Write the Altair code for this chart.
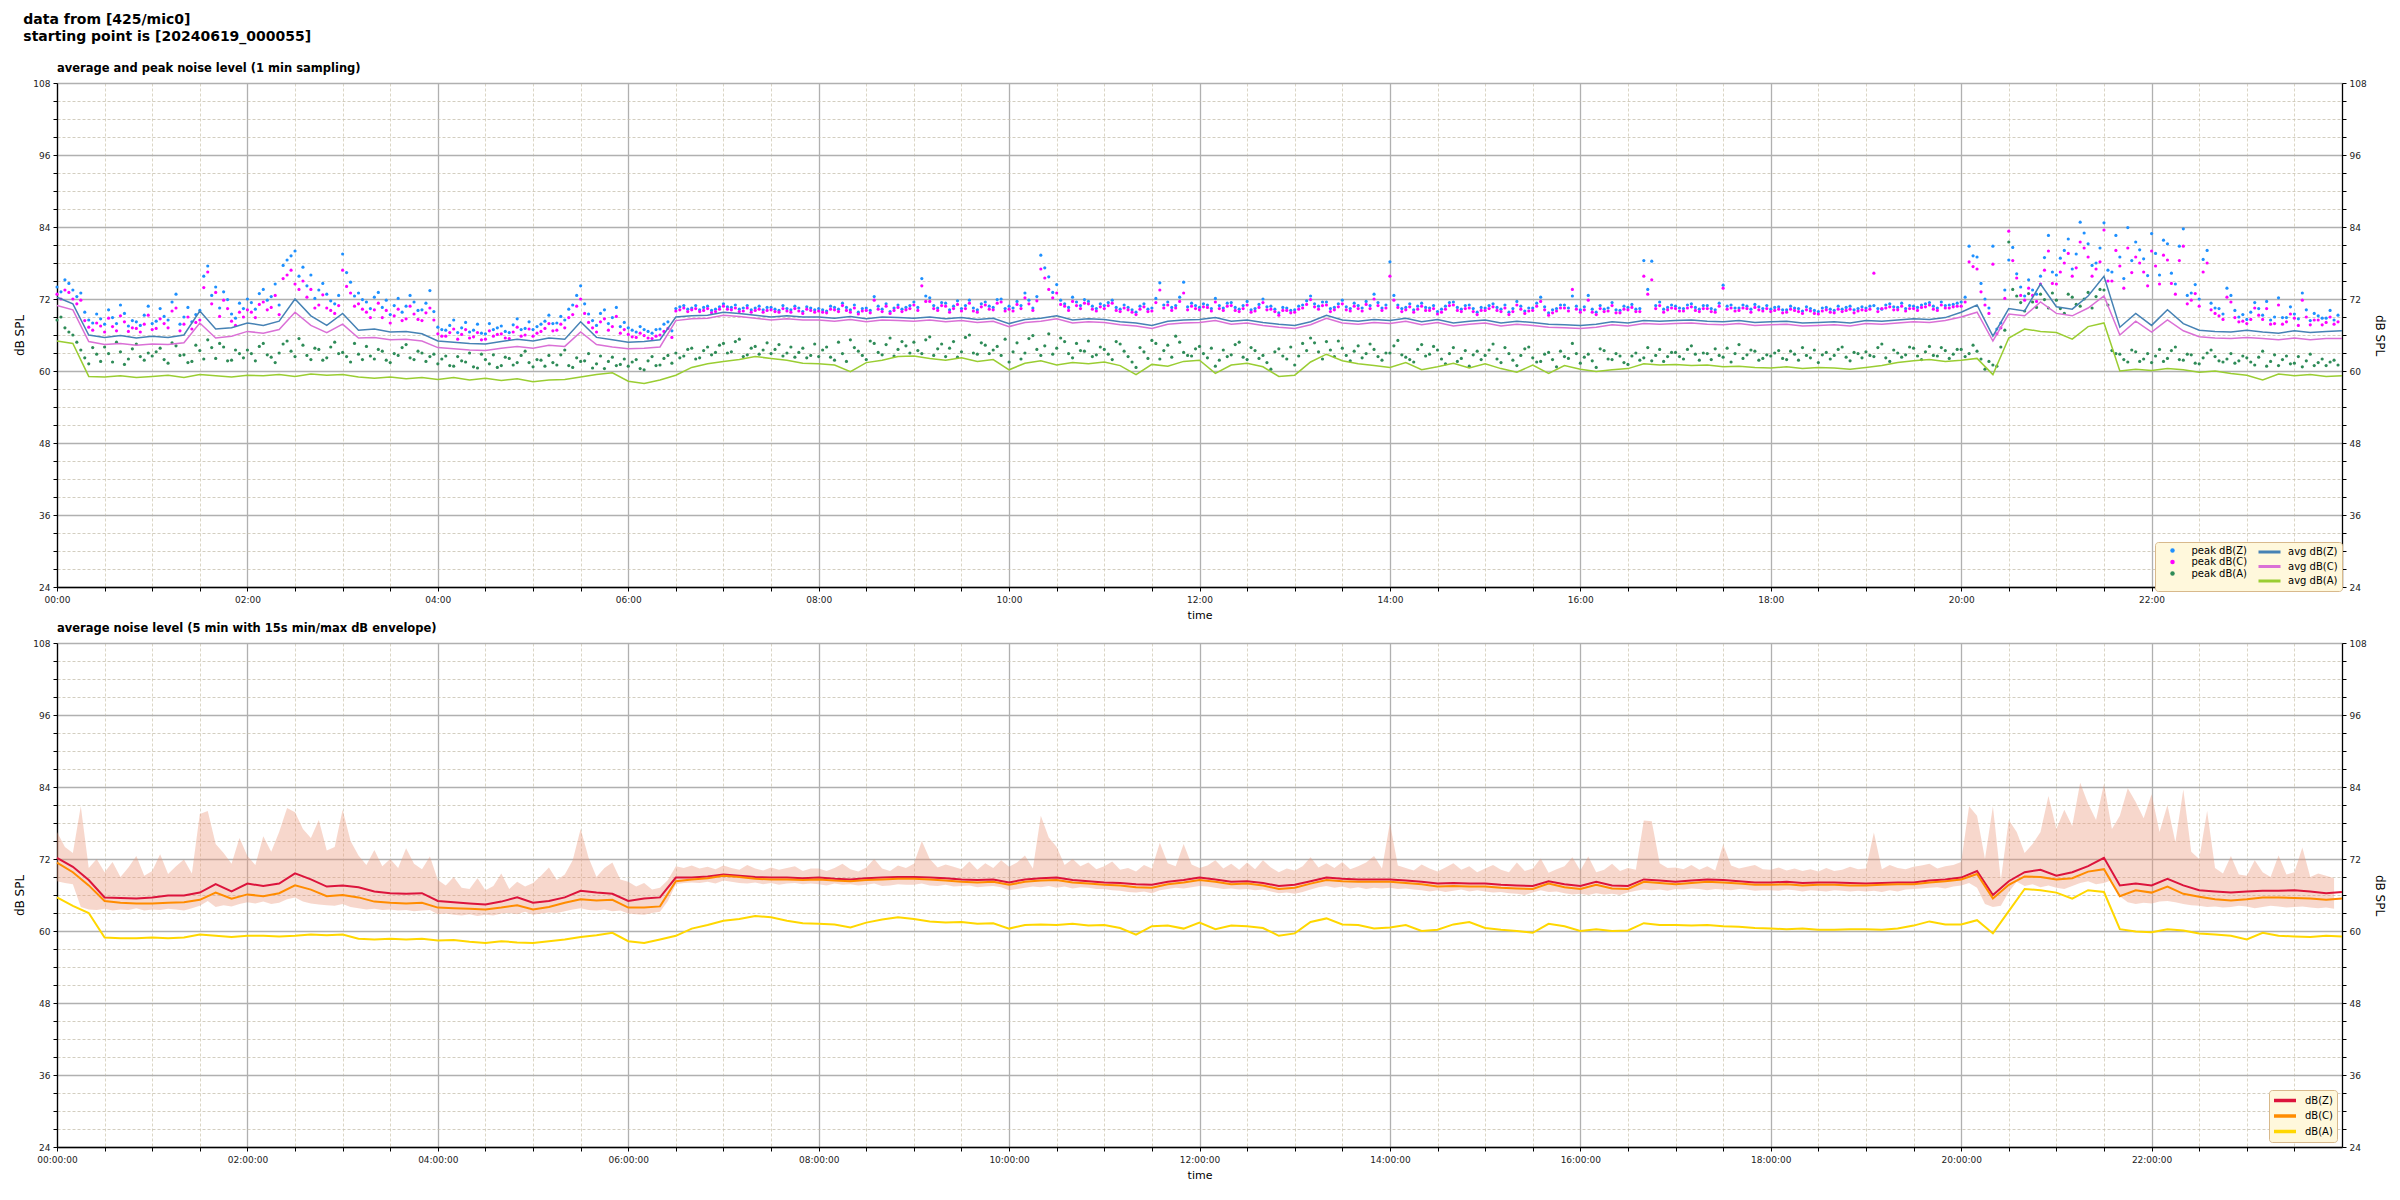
import altair as alt
import pandas as pd

MAIN_TITLE = ["data from [425/mic0]", "starting point is [20240619_000055]"]
TOP_TITLE = "average and peak noise level (1 min sampling)"
BOTTOM_TITLE = "average noise level (5 min with 15s min/max dB envelope)"

# ---- top panel: 1-min averages, read every 10 min ----
AVG_STEP = 10
avg_z = [
    72.3, 71.2, 66.0, 65.6, 65.9, 65.5,
    65.8, 65.6, 66.0, 70.0, 67.0, 67.2,
    68.0, 67.6, 68.3, 72.0, 69.2, 67.6,
    69.6, 66.8, 67.0, 66.5, 66.6, 66.2,
    65.0, 64.8, 64.6, 64.5, 64.9, 65.3,
    65.0, 65.5, 65.3, 68.2, 65.6, 65.2,
    64.8, 64.9, 65.2, 69.0, 69.2, 69.3,
    69.8, 69.6, 69.3, 69.0, 69.2, 69.0,
    69.0, 68.8, 69.1, 68.7, 69.0, 68.9,
    68.8, 69.0, 68.7, 68.9, 68.6, 68.8,
    67.9, 68.6, 68.8, 69.2, 68.5, 68.7,
    68.6, 68.2, 68.0, 67.6, 68.3, 68.5,
    68.6, 68.9, 68.3, 68.5, 68.1, 67.8,
    67.6, 68.2, 69.3, 68.5, 68.3, 68.6,
    68.4, 68.8, 68.2, 68.6, 68.0, 68.3,
    68.5, 68.0, 68.3, 68.1, 67.8, 67.7,
    67.6, 67.8, 68.2, 68.0, 68.4, 68.3,
    68.4, 68.5, 68.3, 68.2, 68.4, 68.1,
    68.2, 68.3, 68.0, 68.1, 68.2, 68.0,
    68.4, 68.3, 68.5, 68.7, 68.6, 68.9,
    69.8, 71.0, 65.8, 70.4, 70.0, 74.5,
    70.7, 70.3, 72.5, 75.8, 67.3, 69.6,
    67.6, 70.2, 67.9, 66.8, 66.6, 66.5,
    66.8, 66.5, 66.3, 66.7, 66.4, 66.6,
    66.7,
]
avg_c = [
    70.9, 70.2, 64.9, 64.4, 64.6, 64.3,
    64.5, 64.4, 64.7, 68.0, 65.5, 65.8,
    66.6, 66.3, 66.9, 69.8, 67.6, 66.4,
    67.8, 65.5, 65.6, 65.2, 65.3, 65.0,
    63.9, 63.7, 63.5, 63.4, 63.8, 64.1,
    63.8, 64.3, 64.1, 66.5, 64.4, 64.0,
    63.7, 63.8, 64.0, 68.4, 68.7, 68.8,
    69.3, 69.1, 68.8, 68.5, 68.7, 68.5,
    68.5, 68.3, 68.6, 68.2, 68.5, 68.4,
    68.3, 68.5, 68.2, 68.4, 68.1, 68.3,
    67.4, 68.1, 68.3, 68.7, 68.0, 68.2,
    68.1, 67.7, 67.5, 67.1, 67.8, 68.0,
    68.1, 68.4, 67.8, 68.0, 67.6, 67.3,
    67.1, 67.7, 68.8, 68.0, 67.8, 68.1,
    67.9, 68.3, 67.7, 68.1, 67.5, 67.8,
    68.0, 67.5, 67.8, 67.6, 67.3, 67.2,
    67.1, 67.3, 67.7, 67.5, 67.9, 67.8,
    67.9, 68.0, 67.8, 67.7, 67.9, 67.6,
    67.7, 67.8, 67.5, 67.6, 67.7, 67.5,
    67.9, 67.8, 68.0, 68.2, 68.1, 68.4,
    69.0, 69.8, 65.0, 69.5, 69.2, 71.5,
    69.6, 69.2, 70.5, 72.5, 66.0, 68.3,
    66.5, 68.5, 66.7, 65.7, 65.5, 65.4,
    65.6, 65.4, 65.2, 65.5, 65.2, 65.4,
    65.4,
]
avg_a = [
    65.0, 64.6, 59.1, 59.0, 59.2, 58.9,
    59.1, 59.3, 58.9, 59.4, 59.2, 59.0,
    59.3, 59.2, 59.4, 59.1, 59.5, 59.3,
    59.4, 59.0, 58.8, 59.0, 58.7, 58.9,
    58.6, 58.9, 58.5, 58.8, 58.4, 58.7,
    58.2, 58.5, 58.6, 59.0, 59.4, 59.7,
    58.3, 57.9, 58.5, 59.3, 60.6, 61.2,
    61.6, 61.9, 62.4, 62.1, 61.8, 61.3,
    61.2, 61.0, 59.9, 61.4, 61.8, 62.4,
    62.5, 62.1, 61.8, 62.2, 61.6, 61.9,
    60.2, 61.3, 61.7, 61.0, 61.4, 61.2,
    61.5, 60.9, 59.4, 61.1, 60.8, 61.6,
    61.8, 59.6, 61.0, 61.3, 60.7, 59.1,
    59.3, 61.5, 62.8, 61.7, 61.2, 60.9,
    60.6, 61.4, 60.2, 60.7, 61.3, 60.5,
    61.2, 60.4, 59.8, 61.0, 59.6, 60.9,
    60.3, 59.9, 60.2, 60.4, 61.2, 61.0,
    61.1, 60.9, 61.0, 60.7, 60.8, 60.6,
    60.5, 60.7, 60.4, 60.6, 60.5, 60.3,
    60.6, 60.9, 61.4, 61.7, 61.9, 61.6,
    61.8, 62.1, 59.4, 65.5, 67.0, 66.6,
    66.4, 65.3, 67.4, 68.0, 60.0, 60.3,
    60.1, 60.4, 60.2, 59.8, 60.0, 59.6,
    59.3, 58.5, 59.5, 59.2, 59.4, 59.1,
    59.2,
]

# ---- top panel: peak values, read every 5 min (minute 0, 5, 10, ...) ----
PEAK_STEP = 5
peak_z = [
    74.0, 75.2, 73.5, 73.0, 68.5, 69.5, 67.8, 68.9, 71.0, 67.5, 68.2, 69.3,
    67.9, 70.4, 68.5, 72.8, 69.0, 68.2, 70.1, 77.5, 74.0, 73.2, 69.5, 71.3,
    72.0, 70.3, 73.6, 72.4, 71.0, 78.5, 80.0, 77.3, 76.0, 73.5, 72.8, 71.2,
    79.5, 74.8, 73.0, 71.5, 72.3, 70.6, 69.4, 72.1, 70.8, 71.5, 70.2, 73.4,
    67.3, 66.8, 68.5, 67.2, 66.5, 67.8, 66.2, 66.9, 67.5, 66.4, 68.7, 67.1,
    66.9, 67.8, 69.3, 68.0, 68.5, 71.0, 74.2, 69.5, 67.6, 70.2, 68.9, 67.4,
    67.2, 66.5, 66.9, 66.3, 67.0, 68.2, 70.4, 70.9, 70.5, 70.2, 70.8, 70.3,
    71.2, 70.6, 70.3, 70.9, 70.5, 70.2, 70.6, 70.1, 70.4, 70.8, 69.9, 70.5,
    70.4, 70.0, 70.6, 71.3, 70.2, 69.8, 70.5, 72.4, 70.3, 69.9, 71.0, 70.6,
    71.5, 75.4, 72.2, 70.5, 71.3, 70.8, 70.4, 71.8, 70.2, 71.5, 70.6, 72.0,
    70.8, 71.6, 73.0, 70.5, 79.3, 75.7, 74.4, 71.2, 72.3, 70.9, 71.6, 70.4,
    70.9, 71.8, 70.3, 70.6, 69.8, 71.2, 70.5, 74.7, 71.5, 70.9, 74.8, 71.3,
    70.6, 71.0, 72.1, 70.5, 71.4, 70.3, 71.6, 70.4, 72.0, 70.8, 69.7, 70.5,
    70.2, 71.0, 72.5, 70.8, 71.5, 70.6, 71.8, 70.4, 70.9, 71.6, 72.8, 70.5,
    78.2, 71.0, 70.6, 70.2, 71.3, 70.5, 69.9, 70.8, 71.5, 70.3, 71.0, 69.8,
    70.5, 71.2, 70.3, 69.8, 71.6, 70.0, 70.5, 72.3, 69.7, 70.4, 71.0, 72.5,
    70.2, 72.6, 69.8, 70.3, 71.4, 70.1, 70.6, 70.3, 78.4, 78.3, 71.5, 70.6,
    70.8, 70.4, 71.2, 70.3, 70.9, 70.2, 74.3, 71.0, 70.5, 70.8, 71.1, 70.4,
    70.3, 70.7, 70.2, 70.5, 70.0, 70.4, 69.9, 70.6, 70.1, 70.3, 70.8, 70.4,
    70.5, 70.9, 70.3, 71.2, 70.6, 70.4, 70.8, 71.0, 71.4, 70.5, 70.9, 71.1,
    71.5, 80.8, 79.0, 72.0, 80.8, 68.0, 78.5, 76.2, 72.5, 73.5, 75.8, 82.6,
    76.0, 80.1, 77.0, 84.8, 81.2, 78.0, 84.7, 76.5, 79.0, 83.9, 81.5, 78.7,
    82.9, 76.0, 81.2, 74.5, 83.7, 73.0, 72.0, 80.1, 70.5, 69.5, 72.6, 69.0,
    68.6, 71.4, 69.3, 68.5, 72.2, 68.9, 69.5, 73.0, 68.4, 69.2, 68.8, 68.5,
]
peak_c = [
    72.8, 73.5, 72.0, 71.8, 67.3, 68.0, 66.5, 67.4, 69.2, 66.6, 67.1, 67.8,
    66.9, 68.7, 67.2, 70.5, 67.8, 67.0, 68.5, 76.5, 73.1, 71.8, 68.3, 69.8,
    70.2, 68.9, 71.5, 70.6, 69.4, 76.0, 74.5, 75.0, 73.6, 71.0, 70.5, 69.6,
    76.8, 73.0, 71.2, 69.8, 70.2, 68.9, 68.0, 70.3, 68.7, 69.5, 68.4, 70.5,
    66.2, 65.8, 67.0, 66.1, 65.5, 66.4, 65.3, 65.8, 66.2, 65.4, 67.3, 66.0,
    65.8, 66.6, 67.9, 66.8, 67.2, 69.4, 72.0, 68.1, 66.5, 68.7, 67.4, 66.3,
    66.1, 65.6, 65.9, 65.4, 66.0, 67.1, 70.0, 70.5, 70.2, 69.9, 70.4, 69.9,
    70.8, 70.2, 69.9, 70.5, 70.1, 69.8, 70.2, 69.8, 70.0, 70.4, 69.6, 70.1,
    70.0, 69.7, 70.2, 70.9, 69.8, 69.5, 70.1, 71.8, 69.9, 69.6, 70.6, 70.2,
    71.0, 74.2, 71.6, 70.1, 70.8, 70.4, 70.0, 71.3, 69.8, 71.0, 70.2, 71.5,
    70.3, 71.1, 72.2, 70.1, 77.0, 73.6, 73.0, 70.8, 71.6, 70.4, 71.2, 70.0,
    70.4, 71.3, 69.9, 70.2, 69.4, 70.7, 70.0, 73.5, 71.0, 70.5, 73.0, 70.8,
    70.2, 70.6, 71.5, 70.1, 70.9, 69.9, 71.0, 70.0, 71.4, 70.3, 69.3, 70.1,
    69.8, 70.5, 71.9, 70.3, 71.0, 70.2, 71.2, 70.0, 70.4, 71.1, 72.0, 70.1,
    75.8, 70.6, 70.2, 69.8, 70.8, 70.1, 69.5, 70.3, 71.0, 69.9, 70.5, 69.4,
    70.1, 70.7, 69.9, 69.4, 71.0, 69.6, 70.1, 71.6, 69.3, 70.0, 70.5, 73.6,
    69.8, 71.8, 69.4, 69.9, 70.9, 69.7, 70.2, 69.9, 75.8, 75.2, 70.9, 70.2,
    70.4, 70.0, 70.7, 69.9, 70.4, 69.8, 73.8, 70.5, 70.1, 70.4, 70.6, 70.0,
    69.9, 70.3, 69.8, 70.1, 69.6, 70.0, 69.5, 70.2, 69.7, 69.9, 70.3, 70.0,
    70.1, 76.3, 70.4, 70.7, 70.2, 70.0, 70.4, 70.6, 71.0, 70.1, 70.5, 70.7,
    70.8, 78.2, 77.0, 71.0, 77.8, 67.2, 83.3, 75.5, 71.8, 72.6, 74.5, 80.0,
    74.5, 78.0, 75.8, 81.5, 79.0, 77.0, 83.5, 75.0, 77.5, 80.5, 79.0, 76.5,
    80.0, 74.5, 78.5, 72.8, 80.8, 71.8, 70.8, 78.0, 69.6, 68.6, 71.5, 68.2,
    67.9, 70.5, 68.6, 67.8, 71.0, 68.2, 68.8, 71.8, 67.7, 68.5, 68.1, 67.8,
]
peak_a = [
    68.5, 67.2, 66.0, 63.5, 61.2, 62.8, 64.0, 61.5, 63.2, 62.0, 64.5, 61.8,
    62.5, 63.8, 61.3, 64.2, 62.7, 61.6, 63.4, 65.2, 62.1, 64.0, 61.8, 62.9,
    63.5, 61.7, 64.6, 62.3, 63.0, 65.0, 62.4, 64.3, 61.9, 63.6, 62.2, 64.8,
    63.1, 61.5, 62.8, 64.1, 62.0, 63.3, 61.4, 62.6, 64.4, 61.9, 63.0, 62.4,
    61.2, 62.5, 60.8, 61.7, 63.0, 60.5, 61.9, 62.7, 60.9, 62.1, 61.4, 63.3,
    60.7, 61.8, 62.6, 61.0, 63.5, 60.6, 61.6, 62.9, 61.2, 60.4, 62.3, 61.1,
    60.8, 61.9, 60.2, 62.4, 61.0, 62.6, 63.0, 62.5, 63.8, 62.2, 64.0, 63.1,
    64.6, 63.2, 65.3, 62.7, 64.1, 63.5, 62.9, 64.4, 63.0, 62.3, 63.8, 62.6,
    62.4, 64.0, 61.8, 62.9, 65.2, 63.3, 61.9, 64.6, 62.7, 65.5, 63.6, 64.2,
    64.8, 62.9, 65.7, 63.7, 62.4, 64.9, 63.2, 66.0, 62.8, 64.3, 63.5, 62.6,
    61.5, 64.7, 63.0, 65.9, 62.6, 66.2, 63.8, 64.9, 62.2, 63.4, 65.0, 62.7,
    63.6, 61.9, 64.5, 62.4, 60.6, 63.2, 65.1, 62.0, 64.3, 65.8, 63.1, 62.5,
    64.1, 62.2, 60.8, 63.5, 62.7, 64.8, 61.9, 63.4, 62.6, 60.3, 63.7, 62.0,
    61.0, 64.6, 65.5, 63.2, 64.9, 62.4, 63.8, 61.7, 64.2, 62.9, 63.6, 61.8,
    63.0, 65.1, 62.3, 61.5, 64.4, 62.8, 63.5, 61.2, 63.9, 62.1, 60.8, 63.3,
    62.6, 64.5, 61.4, 62.9, 60.9, 63.7, 62.2, 61.6, 63.1, 60.7, 62.4, 64.6,
    61.3, 62.8, 60.6, 63.4, 61.9, 62.5, 61.1, 63.0, 62.2, 61.7, 63.6, 62.4,
    63.1, 62.0, 64.2, 61.8, 62.9, 63.7, 62.3, 61.5, 64.4, 62.7, 63.3, 62.1,
    62.5, 63.4, 61.9, 62.8, 63.9, 62.2, 61.4, 63.1, 62.6, 64.0, 61.7, 62.9,
    63.2, 62.4, 64.5, 61.6, 63.0, 62.7, 63.8, 61.9, 64.1, 62.5, 63.4, 62.8,
    63.6, 62.9, 63.3, 60.3, 61.0, 64.0, 81.5, 72.5, 70.0, 71.5, 72.8, 70.5,
    71.8, 69.6, 72.3, 70.8, 73.1, 72.4, 73.5, 63.4, 62.8, 61.5, 63.2, 62.0,
    61.4, 63.6, 62.1, 64.0, 61.8, 62.7, 61.2, 63.0, 62.4, 61.5, 62.9, 61.7,
    62.2, 61.0, 63.3, 61.6, 60.9, 62.5, 61.3, 60.7, 62.8, 61.4, 60.9, 61.8,
]

# ---- top panel: peak values in between (minute 2.5, 7.5, 12.5, ...) ----
peak_z_mid = [
    73.2, 74.6, 72.4, 69.8, 68.0, 68.7, 70.2, 67.9, 69.6, 68.4, 67.6, 70.8,
    68.3, 69.1, 71.5, 67.8, 70.6, 69.4, 75.8, 72.6, 70.5, 71.9, 68.8, 70.4,
    71.4, 72.9, 71.8, 74.5, 77.6, 79.2, 75.8, 74.2, 72.1, 74.6, 71.7, 72.6,
    76.4, 72.5, 71.9, 70.4, 73.1, 71.8, 70.9, 69.8, 72.6, 70.1, 71.3, 69.9,
    66.9, 67.6, 66.4, 68.1, 66.8, 66.3, 67.9, 67.2, 66.6, 67.7, 66.9, 68.2,
    67.4, 68.3, 67.9, 69.1, 70.3, 72.6, 71.2, 68.4, 69.6, 67.9, 70.6, 68.1,
    66.8, 67.4, 66.6, 66.9, 67.8, 66.7, 70.7, 70.3, 70.9, 70.6, 70.1, 70.7,
    70.7, 71.0, 70.5, 70.2, 70.8, 70.6, 70.3, 70.9, 70.2, 70.5, 70.7, 70.2,
    70.2, 70.8, 70.3, 70.6, 71.0, 70.4, 70.1, 70.8, 71.2, 70.5, 70.3, 70.9,
    70.6, 72.5, 70.9, 71.4, 70.2, 71.7, 70.9, 70.5, 71.2, 70.8, 71.9, 70.4,
    70.5, 70.9, 71.8, 72.4, 77.2, 73.1, 71.8, 70.6, 71.5, 71.9, 70.8, 71.2,
    71.4, 70.6, 71.0, 70.2, 70.8, 70.3, 72.1, 71.0, 70.6, 72.3, 70.7, 70.9,
    71.2, 70.4, 70.9, 71.3, 70.6, 70.9, 70.2, 71.1, 70.7, 70.3, 70.6, 70.1,
    70.8, 71.7, 71.2, 71.5, 70.4, 71.2, 70.7, 71.3, 70.5, 70.9, 71.4, 71.0,
    72.6, 70.4, 71.2, 70.8, 70.6, 70.9, 70.3, 71.4, 70.6, 70.9, 70.4, 70.6,
    70.9, 70.6, 71.0, 70.4, 70.8, 70.5, 71.3, 70.7, 70.2, 71.0, 70.5, 70.8,
    70.7, 70.3, 70.9, 70.5, 70.2, 70.8, 71.1, 70.4, 73.6, 70.9, 70.3, 71.0,
    70.5, 71.0, 70.6, 70.9, 70.4, 71.3, 70.8, 70.5, 71.0, 70.3, 70.7, 70.9,
    70.6, 70.2, 70.8, 70.4, 70.7, 70.1, 70.5, 70.3, 70.8, 70.6, 70.2, 70.7,
    70.8, 70.4, 71.0, 70.7, 71.3, 70.9, 70.6, 71.2, 70.8, 71.5, 71.0, 71.3,
    72.3, 79.2, 74.6, 70.5, 67.0, 73.5, 80.6, 74.0, 75.2, 72.8, 78.9, 76.5,
    78.8, 82.0, 79.5, 83.0, 77.6, 80.5, 76.8, 82.6, 75.4, 78.4, 80.2, 75.9,
    79.6, 81.8, 76.3, 80.8, 72.6, 74.4, 78.6, 71.3, 70.4, 73.8, 70.1, 69.4,
    69.8, 70.4, 71.6, 69.0, 68.9, 70.7, 68.7, 70.2, 69.6, 68.8, 70.1, 69.3,
]
peak_c_mid = [
    72.0, 73.1, 71.2, 68.4, 66.8, 67.5, 68.8, 66.7, 68.2, 67.2, 66.5, 69.3,
    67.1, 67.9, 70.0, 66.7, 69.0, 68.1, 73.9, 71.2, 69.1, 70.4, 67.6, 69.0,
    69.8, 71.1, 70.2, 72.6, 75.4, 76.8, 73.6, 72.3, 70.5, 72.7, 70.1, 70.9,
    74.1, 70.8, 70.3, 68.9, 71.3, 70.1, 69.2, 68.4, 70.8, 68.6, 69.7, 68.5,
    65.8, 66.4, 65.3, 66.9, 65.7, 65.2, 66.7, 66.1, 65.5, 66.5, 65.8, 67.0,
    66.3, 67.1, 66.7, 67.8, 68.9, 70.8, 69.6, 67.2, 68.2, 66.8, 69.1, 66.9,
    65.7, 66.3, 65.5, 65.8, 66.6, 65.6, 70.2, 69.9, 70.4, 70.1, 69.7, 70.3,
    70.3, 70.5, 70.0, 69.8, 70.3, 70.1, 69.9, 70.4, 69.8, 70.0, 70.3, 69.8,
    69.8, 70.3, 69.9, 70.1, 70.5, 70.0, 69.7, 70.3, 70.8, 70.1, 69.9, 70.4,
    70.1, 71.6, 70.4, 70.9, 69.8, 71.1, 70.4, 70.0, 70.7, 70.3, 71.3, 70.0,
    70.0, 70.4, 71.2, 71.7, 75.5, 72.2, 71.1, 70.1, 70.9, 71.3, 70.3, 70.7,
    70.9, 70.1, 70.5, 69.8, 70.3, 69.9, 71.4, 70.5, 70.1, 71.6, 70.2, 70.4,
    70.7, 70.0, 70.4, 70.8, 70.1, 70.4, 69.8, 70.6, 70.2, 69.9, 70.1, 69.7,
    70.3, 71.1, 70.7, 70.9, 69.9, 70.7, 70.2, 70.8, 70.0, 70.4, 70.9, 70.5,
    71.8, 69.9, 70.7, 70.3, 70.1, 70.4, 69.8, 70.9, 70.1, 70.4, 69.9, 70.1,
    70.4, 70.1, 70.5, 69.9, 70.3, 70.0, 70.8, 70.2, 69.7, 70.5, 70.0, 70.3,
    70.2, 69.8, 70.4, 70.0, 69.7, 70.3, 70.6, 69.9, 72.8, 70.4, 69.8, 70.5,
    70.0, 70.5, 70.1, 70.4, 69.9, 70.8, 70.3, 70.0, 70.5, 69.8, 70.2, 70.4,
    70.1, 69.7, 70.3, 69.9, 70.2, 69.6, 70.0, 69.8, 70.3, 70.1, 69.7, 70.2,
    70.3, 69.9, 70.5, 70.2, 70.8, 70.4, 70.1, 70.7, 70.3, 71.0, 70.5, 70.8,
    71.5, 77.4, 73.2, 69.6, 66.2, 72.1, 78.4, 72.6, 73.8, 71.6, 76.8, 74.6,
    76.5, 79.6, 77.2, 80.5, 75.8, 78.2, 75.0, 80.1, 73.8, 76.4, 78.0, 74.2,
    77.5, 79.3, 74.6, 78.4, 71.2, 72.9, 76.5, 70.2, 69.2, 72.3, 68.9, 68.3,
    68.6, 69.3, 70.4, 67.9, 67.8, 69.5, 67.6, 69.0, 68.5, 67.7, 69.0, 68.2,
]
peak_a_mid = [
    69.0, 66.5, 64.8, 62.2, 63.9, 61.6, 62.9, 64.8, 61.1, 63.7, 62.4, 63.0,
    63.2, 61.9, 64.7, 62.6, 61.4, 64.3, 62.0, 63.9, 64.6, 61.7, 63.5, 62.2,
    62.9, 64.1, 62.7, 61.4, 64.5, 63.3, 65.4, 62.6, 63.8, 61.8, 64.0, 62.9,
    62.4, 64.6, 61.9, 62.5, 63.6, 61.8, 62.9, 63.9, 62.2, 63.3, 61.6, 62.8,
    62.0, 60.9, 62.4, 61.5, 60.7, 62.8, 61.2, 60.6, 62.3, 61.0, 62.6, 61.4,
    61.9, 60.8, 61.4, 62.7, 60.9, 62.2, 61.7, 60.5, 62.5, 61.6, 60.9, 62.0,
    61.5, 60.4, 61.7, 60.9, 62.1, 61.3, 62.2, 63.6, 62.0, 63.4, 62.7, 64.3,
    63.0, 64.9, 62.4, 63.8, 62.8, 64.7, 63.6, 62.5, 64.0, 63.1, 62.2, 64.5,
    63.5, 62.3, 64.8, 61.6, 63.9, 62.6, 65.0, 63.1, 64.4, 62.5, 64.9, 63.0,
    63.4, 65.2, 62.6, 64.5, 63.8, 62.3, 65.6, 63.0, 64.7, 62.9, 64.1, 65.3,
    63.2, 62.0, 65.4, 63.6, 64.2, 62.8, 65.5, 62.9, 64.6, 63.3, 62.4, 64.0,
    62.8, 64.9, 63.3, 61.5, 63.9, 62.1, 64.6, 63.4, 62.3, 64.8, 62.6, 63.7,
    62.9, 63.8, 61.8, 62.4, 64.4, 62.3, 63.9, 62.1, 61.4, 63.2, 62.5, 64.0,
    62.5, 63.4, 64.7, 62.0, 63.5, 65.0, 62.6, 63.3, 62.2, 64.5, 62.4, 63.0,
    64.2, 62.7, 61.9, 63.6, 62.5, 64.1, 62.0, 62.9, 61.6, 63.4, 62.7, 61.9,
    63.5, 62.0, 63.9, 61.8, 62.6, 64.0, 61.5, 62.8, 61.9, 63.3, 62.1, 62.9,
    62.3, 61.7, 63.7, 62.0, 62.9, 61.4, 62.5, 61.8, 63.9, 62.6, 61.6, 63.1,
    62.4, 63.6, 62.8, 63.0, 61.9, 62.6, 63.8, 62.9, 62.1, 63.5, 61.8, 62.7,
    63.0, 62.1, 63.3, 61.8, 62.6, 63.5, 62.7, 62.0, 63.6, 62.3, 63.1, 62.2,
    62.6, 63.9, 62.2, 63.5, 62.3, 64.0, 62.5, 63.2, 62.6, 63.9, 62.1, 63.6,
    62.4, 64.3, 62.0, 61.6, 60.8, 66.8, 73.6, 71.4, 72.9, 70.6, 71.9, 73.0,
    70.4, 72.8, 71.1, 72.0, 70.5, 73.6, 71.0, 62.9, 61.9, 63.5, 61.6, 62.9,
    62.5, 61.6, 63.4, 61.9, 62.8, 61.3, 62.2, 63.5, 61.7, 62.0, 61.3, 62.5,
    61.5, 62.3, 60.8, 62.7, 61.9, 61.2, 62.4, 61.7, 60.9, 62.0, 61.5, 61.0,
]

# ---- bottom panel: 5-min averages, read every 10 min ----
LINE_STEP = 10
lvl_z = [
    72.2, 70.7, 68.5, 65.6, 65.5, 65.4,
    65.6, 65.9, 65.9, 66.4, 67.8, 66.6,
    67.9, 67.5, 67.9, 69.6, 68.6, 67.4,
    67.6, 67.3, 66.6, 66.3, 66.2, 66.3,
    65.0, 64.8, 64.6, 64.4, 64.9, 65.6,
    64.7, 65.0, 65.6, 66.7, 66.4, 66.2,
    65.0, 65.4, 65.6, 68.9, 68.9, 69.1,
    69.4, 69.2, 69.0, 68.9, 68.9, 68.8,
    68.9, 68.7, 68.6, 68.8, 68.9, 69.0,
    69.0, 68.9, 68.8, 68.6, 68.5, 68.6,
    68.1, 68.6, 68.8, 68.9, 68.5, 68.3,
    68.1, 68.0, 67.8, 67.7, 68.2, 68.5,
    68.9, 68.6, 68.2, 68.3, 68.0, 67.5,
    67.7, 68.3, 68.9, 68.7, 68.6, 68.6,
    68.6, 68.4, 68.2, 67.9, 68.0, 67.9,
    67.9, 67.7, 67.6, 67.5, 68.3, 67.8,
    67.5, 68.2, 67.6, 67.5, 68.6, 68.4,
    68.2, 68.4, 68.6, 68.5, 68.3, 68.1,
    68.1, 68.2, 68.0, 68.1, 68.1, 68.0,
    67.9, 68.0, 68.1, 68.1, 68.4, 68.6,
    68.9, 70.0, 66.0, 68.3, 69.8, 70.2,
    69.2, 69.8, 70.8, 72.2, 67.6, 67.9,
    67.6, 68.7, 67.6, 66.8, 66.6, 66.4,
    66.6, 66.7, 66.7, 66.8, 66.6, 66.3,
    66.5,
]
lvl_c = [
    71.4, 69.8, 67.6, 65.0, 64.7, 64.6,
    64.6, 64.7, 64.8, 65.2, 66.4, 65.4,
    66.1, 65.8, 66.3, 67.6, 66.9, 65.8,
    66.0, 65.6, 64.9, 64.7, 64.6, 64.7,
    63.9, 63.8, 63.7, 63.6, 63.9, 64.3,
    63.6, 64.0, 64.7, 65.3, 65.1, 65.2,
    63.9, 63.9, 64.1, 68.3, 68.6, 68.8,
    69.2, 69.0, 68.7, 68.6, 68.6, 68.5,
    68.6, 68.4, 68.3, 68.5, 68.6, 68.7,
    68.7, 68.6, 68.4, 68.2, 68.1, 68.2,
    67.7, 68.2, 68.4, 68.5, 68.1, 67.9,
    67.7, 67.6, 67.3, 67.2, 67.8, 68.1,
    68.5, 68.2, 67.8, 67.9, 67.6, 67.0,
    67.2, 67.9, 68.5, 68.3, 68.2, 68.2,
    68.2, 68.0, 67.8, 67.4, 67.5, 67.4,
    67.4, 67.2, 67.1, 67.0, 67.9, 67.3,
    67.0, 67.7, 67.1, 67.0, 68.2, 68.0,
    67.8, 68.0, 68.2, 68.1, 67.9, 67.7,
    67.7, 67.8, 67.6, 67.7, 67.7, 67.6,
    67.6, 67.7, 67.8, 67.8, 68.1, 68.3,
    68.6, 69.5, 65.4, 67.7, 69.1, 69.0,
    68.6, 68.8, 69.9, 70.3, 65.8, 66.8,
    66.4, 67.4, 66.2, 65.7, 65.3, 65.1,
    65.3, 65.6, 65.6, 65.5, 65.4, 65.2,
    65.4,
]
lvl_a = [
    65.6, 64.2, 63.0, 58.9, 58.8, 58.8,
    58.9, 58.8, 58.9, 59.4, 59.2, 59.0,
    59.2, 59.2, 59.1, 59.2, 59.4, 59.3,
    59.4, 58.7, 58.6, 58.7, 58.6, 58.7,
    58.4, 58.5, 58.2, 58.0, 58.3, 58.1,
    58.0, 58.3, 58.6, 59.0, 59.3, 59.7,
    58.3, 58.0, 58.6, 59.2, 60.4, 61.0,
    61.7, 62.0, 62.5, 62.3, 61.7, 61.3,
    61.2, 61.1, 60.6, 61.4, 61.9, 62.3,
    62.0, 61.6, 61.4, 61.5, 61.2, 61.3,
    60.4, 61.0, 61.1, 61.0, 61.2, 60.9,
    61.0, 60.5, 59.4, 60.8, 60.9, 60.4,
    61.4, 60.3, 60.9, 60.8, 60.5, 59.2,
    59.6, 61.5, 62.1, 61.1, 61.0, 60.4,
    60.6, 61.0, 60.0, 60.2, 61.1, 61.5,
    60.5, 60.2, 60.0, 59.7, 61.2, 60.8,
    60.0, 60.3, 60.0, 60.1, 61.3, 61.0,
    61.0, 60.9, 61.0, 60.8, 60.7, 60.5,
    60.4, 60.3, 60.4, 60.2, 60.2, 60.3,
    60.3, 60.2, 60.4, 60.9, 61.6, 61.1,
    61.1, 61.8, 59.6, 63.3, 67.0, 66.8,
    66.4, 65.4, 66.8, 66.5, 60.3, 59.9,
    59.8, 60.3, 60.1, 59.6, 59.4, 59.2,
    58.6, 59.7, 59.2, 59.1, 59.0, 59.2,
    59.1,
]

# ---- bottom panel: 15 s min/max envelope, read every 5 min ----
ENV_STEP = 5
env_hi = [
    76.5, 74.0, 73.0, 80.8, 70.5, 72.0, 69.8, 71.5, 69.0, 70.6, 72.5, 69.2,
    70.0, 72.8, 69.5, 70.8, 71.9, 69.6, 79.5, 80.0, 74.5, 73.0, 71.2, 75.5,
    72.5, 71.0, 75.8, 73.2, 76.5, 80.5, 79.8, 77.0, 75.5, 78.5, 73.4, 74.0,
    80.2, 75.0, 72.6, 71.0, 73.5, 70.8, 72.0, 70.5, 73.8, 71.2, 70.3, 72.4,
    68.5, 67.6, 69.0, 67.2, 67.0, 68.8, 66.8, 67.5, 69.6, 67.0, 68.2, 67.4,
    68.0, 69.2, 70.6, 68.5, 69.4, 71.8, 77.0, 72.2, 69.0, 70.5, 71.4, 68.6,
    68.2, 67.4, 68.0, 66.9, 67.2, 68.5, 70.8, 70.5, 70.9, 70.4, 70.7, 70.3,
    70.9, 70.5, 70.2, 71.0, 70.4, 70.1, 70.6, 70.2, 70.5, 70.8, 70.0, 70.4,
    70.4, 70.0, 70.5, 71.2, 70.3, 69.9, 70.6, 72.0, 70.4, 70.0, 70.9, 70.5,
    71.2, 75.0, 72.0, 70.6, 71.1, 70.7, 70.3, 71.6, 70.2, 71.3, 70.5, 71.8,
    70.7, 71.4, 72.6, 70.4, 79.2, 75.6, 74.0, 71.0, 72.0, 70.8, 71.4, 70.3,
    70.8, 71.6, 70.2, 70.5, 69.9, 71.0, 70.4, 74.7, 71.3, 70.8, 74.5, 71.1,
    70.5, 70.9, 71.8, 70.4, 71.2, 70.2, 71.4, 70.3, 71.8, 70.6, 69.8, 70.4,
    70.1, 70.8, 72.3, 70.6, 71.3, 70.5, 71.5, 70.3, 70.8, 71.4, 72.5, 70.4,
    78.0, 70.9, 70.5, 70.1, 71.1, 70.4, 69.9, 70.6, 71.3, 70.2, 70.8, 69.8,
    70.4, 71.0, 70.2, 69.8, 71.4, 70.0, 70.4, 72.1, 69.7, 70.3, 70.8, 72.3,
    70.1, 72.4, 69.8, 70.2, 71.2, 70.0, 70.5, 70.2, 78.4, 78.3, 71.3, 70.5,
    70.6, 70.3, 71.0, 70.2, 70.8, 70.1, 74.4, 70.9, 70.4, 70.7, 71.0, 70.3,
    70.2, 70.6, 70.1, 70.4, 70.0, 70.3, 69.9, 70.5, 70.0, 70.2, 70.7, 70.3,
    70.4, 76.4, 70.3, 71.0, 70.5, 70.3, 70.7, 70.9, 71.2, 70.4, 70.8, 71.0,
    71.5, 80.8, 79.2, 72.0, 80.8, 68.5, 78.5, 76.5, 73.0, 74.5, 76.5, 82.5,
    77.0, 80.2, 77.5, 84.7, 81.2, 78.5, 84.5, 77.0, 79.2, 83.8, 81.5, 78.8,
    82.8, 76.5, 81.0, 74.8, 83.6, 73.2, 72.0, 80.0, 70.5, 69.6, 72.5, 69.4,
    69.2, 71.8, 69.8, 69.0, 72.6, 69.4, 69.8, 73.9, 69.0, 69.6, 69.2, 68.8,
]
env_lo = [
    68.3, 68.0, 67.8, 64.0, 63.6, 63.5, 63.7, 63.4, 63.6, 63.5, 63.8, 63.4,
    63.6, 63.5, 63.7, 63.6, 63.4, 63.8, 64.2, 65.0, 64.0, 64.3, 64.1, 64.5,
    64.8, 64.6, 64.9, 64.5, 64.7, 65.3, 65.6, 64.9, 64.6, 64.4, 64.3, 64.2,
    64.5, 64.0, 63.8, 63.6, 63.7, 63.5, 63.6, 63.4, 63.5, 63.3, 63.4, 63.5,
    62.8, 62.9, 62.7, 62.6, 62.8, 62.5, 62.7, 62.6, 62.9, 63.0, 62.8, 63.2,
    62.7, 62.9, 63.1, 63.0, 63.3, 63.6, 63.8, 63.5, 63.4, 63.6, 63.3, 63.4,
    62.9, 62.8, 62.7, 63.0, 63.2, 65.0, 67.8, 68.0, 68.1, 68.0, 68.2, 67.9,
    68.4, 68.2, 68.0, 67.9, 68.1, 67.8, 68.0, 67.7, 67.9, 68.0, 67.8, 67.9,
    67.8, 67.6, 67.9, 67.7, 67.8, 67.6, 67.7, 67.9, 67.5, 67.6, 67.8, 67.7,
    67.7, 67.9, 67.6, 67.5, 67.7, 67.4, 67.5, 67.6, 67.3, 67.4, 67.5, 67.3,
    66.8, 67.0, 67.2, 67.4, 67.3, 67.5, 67.2, 67.4, 67.1, 67.3, 67.2, 67.0,
    67.0, 66.8, 66.7, 66.5, 66.4, 66.6, 66.3, 66.8, 67.0, 67.2, 67.1, 67.3,
    67.5, 67.4, 67.2, 67.0, 67.1, 66.9, 67.0, 66.8, 66.9, 66.6, 66.3, 66.4,
    66.2, 66.5, 66.9, 67.3, 67.5, 67.2, 67.4, 67.1, 67.3, 67.0, 67.2, 67.1,
    67.2, 67.0, 67.1, 66.9, 66.8, 66.6, 66.8, 66.5, 66.7, 66.9, 66.6, 66.8,
    66.6, 66.4, 66.5, 66.3, 66.2, 66.0, 66.4, 66.8, 66.5, 66.6, 66.3, 66.1,
    66.2, 66.0, 66.3, 66.1, 66.2, 66.0, 66.4, 66.7, 66.9, 66.8, 66.9, 66.7,
    67.0, 66.9, 67.1, 67.0, 66.8, 67.0, 66.9, 66.8, 67.0, 66.9, 66.7, 66.8,
    66.8, 66.7, 66.9, 66.8, 66.6, 66.8, 66.7, 66.6, 66.8, 66.7, 66.6, 66.7,
    66.6, 66.7, 66.5, 66.8, 66.6, 66.9, 67.0, 67.1, 67.2, 67.3, 67.1, 67.4,
    67.6, 68.0, 67.2, 64.5, 64.0, 64.2, 66.5, 68.2, 67.5, 67.8, 67.3, 67.6,
    67.2, 67.0, 67.5, 68.0, 68.3, 67.8, 68.0, 68.5, 65.8, 64.8, 64.5, 64.7,
    64.6, 64.9, 65.0, 64.8, 64.5, 64.3, 64.2, 64.0, 64.1, 63.9, 64.0, 64.2,
    64.1, 63.8, 64.0, 64.2, 64.1, 63.9, 64.0, 64.1, 63.9, 63.8, 63.9, 63.7,
]

PEAK_NAMES = ["peak dB(Z)", "peak dB(C)", "peak dB(A)"]
PEAK_COLORS = ["#1e90ff", "#ff00ff", "#2e8b57"]
AVG_NAMES = ["avg dB(Z)", "avg dB(C)", "avg dB(A)"]
AVG_COLORS = ["#4682b4", "#da70d6", "#9acd32"]
BOT_NAMES = ["dB(Z)", "dB(C)", "dB(A)"]
BOT_COLORS = ["#dc143c", "#ff8c00", "#ffd700"]
ENV_COLOR = "#e9967a"
BG = "#fff8dc"
LEGEND_EDGE = "#d8b98c"
LINE_SYMBOL = "M-2.2,0H2.2"

X_TICKS = list(range(0, 1440, 30))
Y_TICKS = list(range(24, 109, 3))
W, H = 2285, 504


def frame(values, step, name, start=0.0):
    return pd.DataFrame({"t": [start + i * step for i in range(len(values))], "v": values, "series": name})


peaks = pd.concat(
    [frame(v, PEAK_STEP, n) for v, n in zip([peak_z, peak_c, peak_a], PEAK_NAMES)]
    + [frame(v, PEAK_STEP, n, PEAK_STEP / 2) for v, n in zip([peak_z_mid, peak_c_mid, peak_a_mid], PEAK_NAMES)])
avgs = pd.concat([frame(v, AVG_STEP, n) for v, n in zip([avg_z, avg_c, avg_a], AVG_NAMES)])
levels = pd.concat([frame(v, LINE_STEP, n) for v, n in zip([lvl_z, lvl_c, lvl_a], BOT_NAMES)])
env = pd.DataFrame({"t": [i * ENV_STEP for i in range(len(env_hi))], "hi": env_hi, "lo": env_lo})

MAJOR_X = "datum.value % 120 === 0"
MAJOR_Y = "datum.value % 12 === 0"


def x_axis(suffix):
    return alt.Axis(
        values=X_TICKS,
        labelExpr=f"{MAJOR_X} ? (datum.value < 600 ? '0' : '') + floor(datum.value / 60) + '{suffix}' : ''",
        title="time", titleFontSize=11, titleFontWeight="normal", titleColor="black", titlePadding=5,
        labelFontSize=9, labelColor="#222222", labelFlush=False, labelOverlap=False, labelPadding=4,
        tickSize=4, tickColor="black", domainColor="black", domainWidth=1.3,
        grid=True,
        gridColor={"condition": {"test": MAJOR_X, "value": "#b0b0b0"}, "value": "#d2cbb8"},
        gridDash={"condition": {"test": MAJOR_X, "value": [1, 0]}, "value": [3, 2]},
        gridWidth={"condition": {"test": MAJOR_X, "value": 1.3}, "value": 0.8},
    )


def y_axis(orient):
    return alt.Axis(
        orient=orient, values=Y_TICKS,
        labelExpr=f"{MAJOR_Y} ? datum.label : ''",
        title="dB SPL", titleFontSize=12, titleFontWeight="normal", titleColor="black", titlePadding=6,
        labelFontSize=9, labelColor="#222222", labelFlush=False, labelOverlap=False, labelPadding=3,
        tickSize=4, tickColor="black", domainColor="black", domainWidth=1.3,
        grid=(orient == "left"),
        gridColor={"condition": {"test": MAJOR_Y, "value": "#b0b0b0"}, "value": "#c8c2b0"},
        gridDash={"condition": {"test": MAJOR_Y, "value": [1, 0]}, "value": [3, 2]},
        gridWidth={"condition": {"test": MAJOR_Y, "value": 1.5}, "value": 0.8},
    )


XS = alt.Scale(domain=[0, 1440], nice=False, zero=False)
YS = alt.Scale(domain=[24, 108], nice=False, zero=False)
x_top = alt.X("t:Q", scale=XS, axis=x_axis(":00"))
x_bot = alt.X("t:Q", scale=XS, axis=x_axis(":00:00"))

label_style = dict(title=None, labelFontSize=10, labelColor="black", labelFont="DejaVu Sans",
                   rowPadding=1.5, padding=3.5)

# the avg legend carries the shared frame: its entries are pushed right so the
# frame also encloses the (frameless) peak legend drawn on top at its left
avg_legend = alt.Legend(orient="none", legendX=2098, legendY=459, fillColor=BG, strokeColor=LEGEND_EDGE,
                        cornerRadius=3, symbolType=LINE_SYMBOL, symbolSize=100, symbolStrokeWidth=3,
                        symbolOffset=104.5, labelOffset=12, zindex=1, **label_style)
peak_legend = alt.Legend(orient="none", legendX=2098, legendY=459, symbolType="circle", symbolSize=20,
                         symbolStrokeWidth=0, symbolOffset=9, labelOffset=14, zindex=2, **label_style)

pts = alt.Chart(peaks).mark_circle(size=10, opacity=1).encode(
    x=x_top, y=alt.Y("v:Q", scale=YS, axis=y_axis("left")),
    fill=alt.Fill("series:N", scale=alt.Scale(domain=PEAK_NAMES, range=PEAK_COLORS), legend=peak_legend))
lns = alt.Chart(avgs).mark_line(strokeWidth=1.5).encode(
    x=x_top, y=alt.Y("v:Q", scale=YS, axis=None),
    stroke=alt.Stroke("series:N", scale=alt.Scale(domain=AVG_NAMES, range=AVG_COLORS), legend=avg_legend))
top_right = alt.Chart(avgs).mark_line(opacity=0).encode(
    x=x_top, y=alt.Y("v:Q", scale=YS, axis=y_axis("right")))
top = alt.layer(pts, lns, top_right).resolve_axis(y="independent").properties(
    width=W, height=H,
    title=alt.TitleParams(TOP_TITLE, anchor="start", frame="group", fontSize=11.5, fontWeight="bold",
                          font="DejaVu Sans", color="black", offset=5))

area = alt.Chart(env).mark_area(color=ENV_COLOR, opacity=0.38).encode(
    x=x_bot, y=alt.Y("hi:Q", scale=YS, axis=y_axis("left")), y2="lo:Q")
bot_legend = alt.Legend(orient="bottom-right", offset=5, fillColor=BG, strokeColor=LEGEND_EDGE, cornerRadius=3,
                        symbolType=LINE_SYMBOL, symbolSize=100, symbolStrokeWidth=3.5, symbolOffset=5.5,
                        labelOffset=13, **label_style)
blines = alt.Chart(levels).mark_line(strokeWidth=2).encode(
    x=x_bot, y=alt.Y("v:Q", scale=YS, axis=None),
    color=alt.Color("series:N", scale=alt.Scale(domain=BOT_NAMES, range=BOT_COLORS), legend=bot_legend))
bot_right = alt.Chart(levels).mark_line(opacity=0).encode(
    x=x_bot, y=alt.Y("v:Q", scale=YS, axis=y_axis("right")))
bottom = alt.layer(area, blines, bot_right).resolve_axis(y="independent").properties(
    width=W, height=H,
    title=alt.TitleParams(BOTTOM_TITLE, anchor="start", frame="group", fontSize=11.5, fontWeight="bold",
                          font="DejaVu Sans", color="black", offset=5))

chart = alt.vconcat(top, bottom, spacing=1).resolve_scale(
    color="independent", fill="independent", stroke="independent").properties(
    title=alt.TitleParams(MAIN_TITLE, anchor="start", frame="bounds", fontSize=14, fontWeight="bold",
                          font="DejaVu Sans", color="black", offset=18, dx=10, lineHeight=17)
).configure_view(fill=BG, stroke="black", strokeWidth=1.3).configure(
    font="DejaVu Sans", background="white", padding={"left": 5, "top": 5, "right": 5, "bottom": 5})

chart.save("out.html", embed_options={"renderer": "svg", "actions": False})
